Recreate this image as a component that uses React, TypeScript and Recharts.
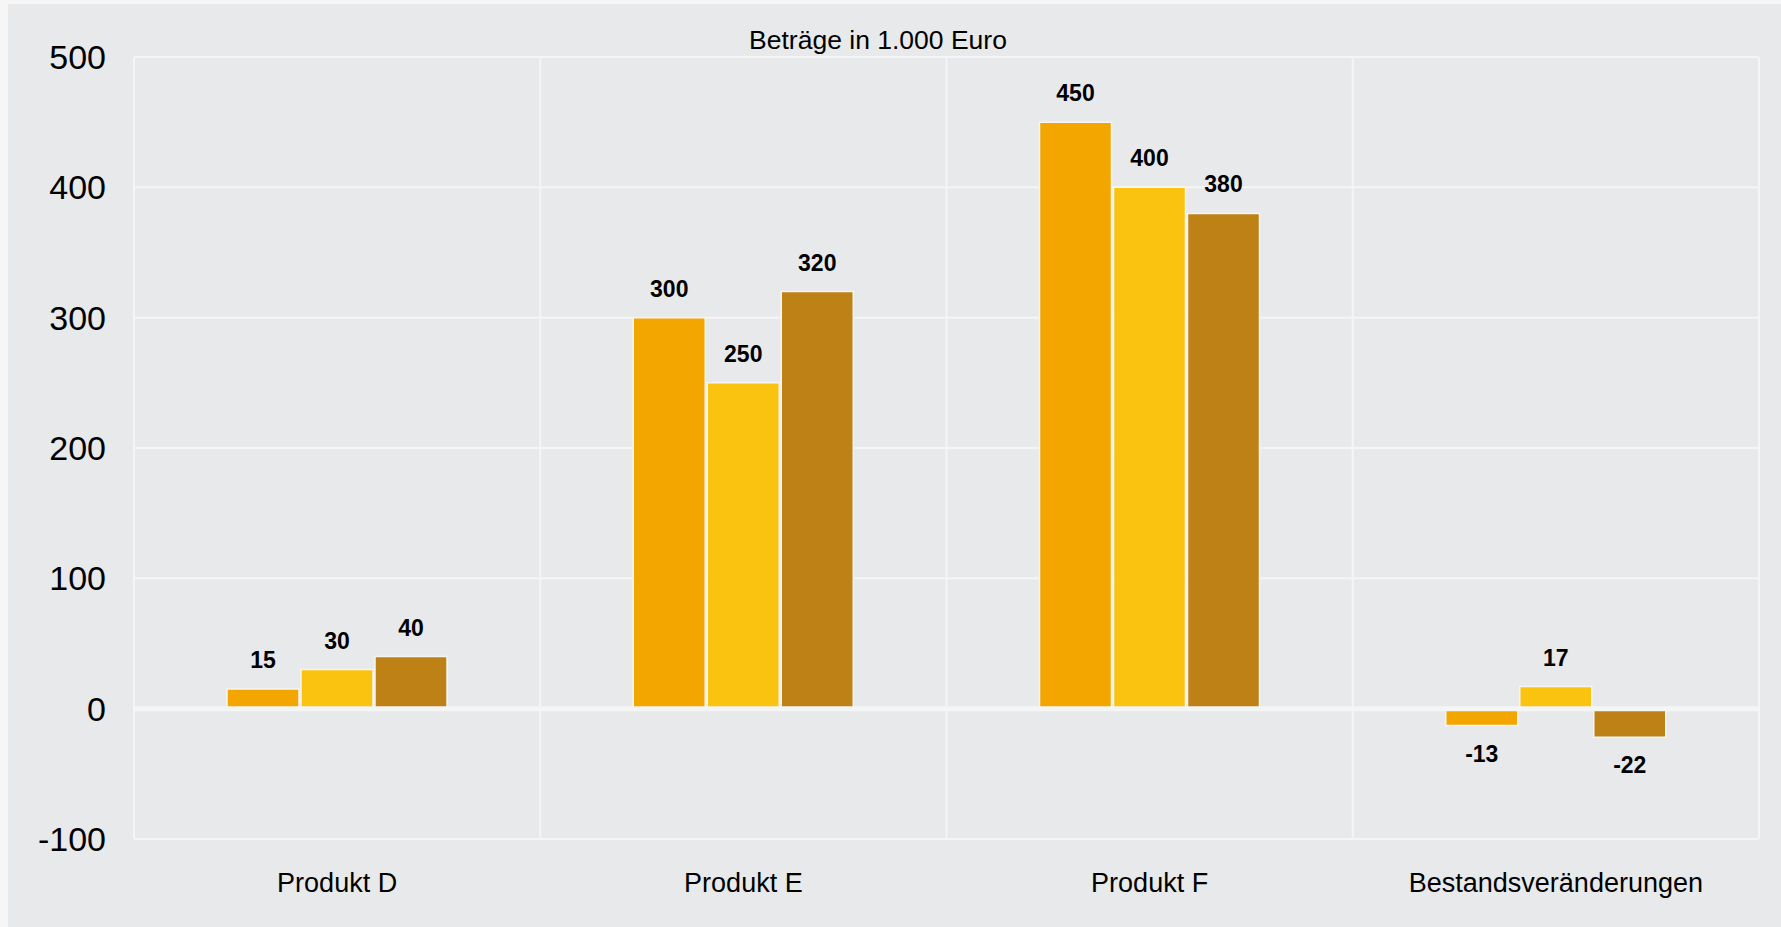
import React from "react";
import { BarChart, Bar, XAxis, YAxis, CartesianGrid, ReferenceLine, LabelList } from "recharts";

const categories = ["Produkt D", "Produkt E", "Produkt F", "Bestandsveränderungen"];
const serie1 = [15, 300, 450, -13];
const serie2 = [30, 250, 400, 17];
const serie3 = [40, 320, 380, -22];
const yTicks = [-100, 0, 100, 200, 300, 400, 500];
const title = "Beträge in 1.000 Euro";

const colors = ["#F3A600", "#FAC30F", "#BE8115"];
const FONT = "'Liberation Sans', Arial, Helvetica, sans-serif";

const data = categories.map((c, i) => ({ name: c, s1: serie1[i], s2: serie2[i], s3: serie3[i] }));

const W = 1773;
const H = 923;

const renderLabel = (props: any) => {
  const { x, y, width, height, value } = props;
  const top = Math.min(y, y + height);
  const bottom = Math.max(y, y + height);
  const cx = x + width / 2;
  const ty = value >= 0 ? top - 21 : bottom + 36;
  return (
    <text x={cx} y={ty} textAnchor="middle" fontFamily={FONT} fontWeight="bold" fontSize={23} fill="#000">
      {value}
    </text>
  );
};

const gridGen = ({ offset }: any) => {
  const left = offset.left;
  const w = offset.width;
  const band = w / categories.length;
  const lines = [];
  for (let i = 0; i <= categories.length; i++) lines.push(left + band * i);
  return lines;
};

export default function App() {
  return (
    <div style={{ position: "absolute", left: 0, top: 0, width: 1781, height: 927, background: "#f6f6f6", overflow: "hidden" }}>
      <div style={{ position: "absolute", left: 8, top: 4, width: W, height: H, background: "#e8e9eb" }}>
        <BarChart width={W} height={H} data={data} margin={{ top: 53, right: 22, left: 0, bottom: 0 }} barSize={72} barGap={2}>
          <CartesianGrid stroke="#f5f5f5" strokeWidth={2} horizontal={true} vertical={true} verticalCoordinatesGenerator={gridGen} />
          <XAxis
            dataKey="name"
            height={88}
            axisLine={false}
            tickLine={false}
            tickSize={0}
            tickMargin={34}
            tick={{ fontFamily: FONT, fontSize: 27, fill: "#000" }}
            interval={0}
          />
          <YAxis
            width={126}
            domain={[-100, 500]}
            ticks={yTicks}
            axisLine={false}
            tickLine={false}
            tickSize={0}
            tickMargin={28}
            tick={{ fontFamily: FONT, fontSize: 34, fill: "#000" }}
          />
          <Bar dataKey="s1" fill={colors[0]} stroke="#f5f5f5" strokeWidth={1.5} isAnimationActive={false}>
            <LabelList dataKey="s1" content={renderLabel} />
          </Bar>
          <Bar dataKey="s2" fill={colors[1]} stroke="#f5f5f5" strokeWidth={1.5} isAnimationActive={false}>
            <LabelList dataKey="s2" content={renderLabel} />
          </Bar>
          <Bar dataKey="s3" fill={colors[2]} stroke="#f5f5f5" strokeWidth={1.5} isAnimationActive={false}>
            <LabelList dataKey="s3" content={renderLabel} />
          </Bar>
          <ReferenceLine y={0} stroke="#f5f5f5" strokeWidth={5} />
          <text x={870} y={45} textAnchor="middle" fontFamily={FONT} fontSize={26.5} fill="#000">
            {title}
          </text>
        </BarChart>
      </div>
    </div>
  );
}
